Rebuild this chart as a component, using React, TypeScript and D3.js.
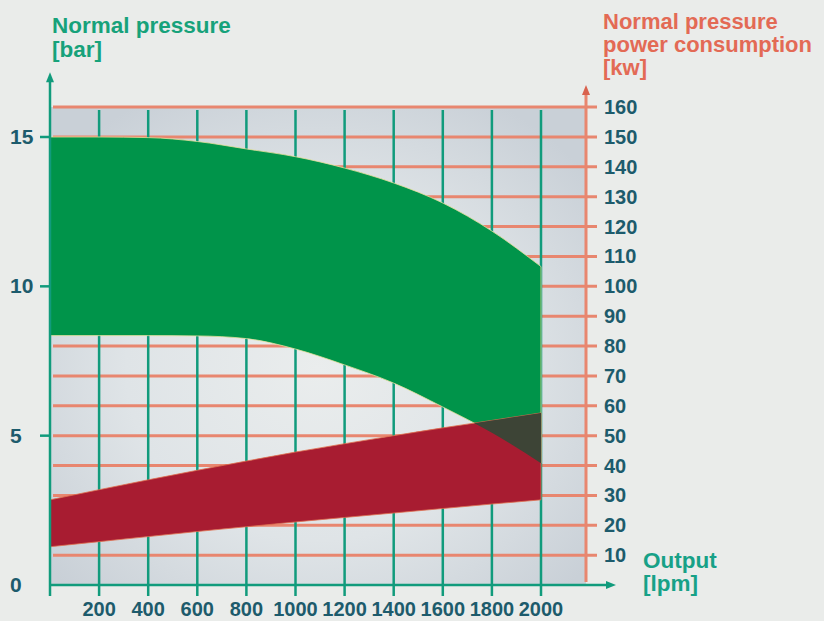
import React from "react";
import * as d3 from "d3";

// output flow (lpm) sampled every 200
const outputLpm = [0, 200, 400, 600, 800, 1000, 1200, 1400, 1600, 1800, 2000];
// normal pressure band (bar)
const pressureMax = [15, 15, 14.98, 14.85, 14.6, 14.34, 13.96, 13.46, 12.79, 11.85, 10.66];
const pressureMin = [8.35, 8.35, 8.35, 8.34, 8.25, 7.9, 7.37, 6.76, 5.96, 5.1, 4.08];
// power consumption band (kW)
const powerMax = [28.5, 31.9, 35.2, 38.4, 41.5, 44.5, 47.3, 50, 52.6, 55.1, 57.6];
const powerMin = [12.8, 14.5, 16.2, 17.9, 19.5, 21.1, 22.6, 24.1, 25.6, 27.1, 28.5];

const pressureTicks = [0, 5, 10, 15];
const powerTicks = [10, 20, 30, 40, 50, 60, 70, 80, 90, 100, 110, 120, 130, 140, 150, 160];
const outputTicks = [200, 400, 600, 800, 1000, 1200, 1400, 1600, 1800, 2000];

const W = 824;
const H = 621;

const GREEN = "#00944a";
const RED = "#a81c31";
const DARK = "#3d4436";
const TEAL = "#119b7c";
const GRID_RED = "#e8866f";
const LABEL = "#1d5b6c";
const FONT = "'Liberation Sans', Arial, sans-serif";

const App = () => {
  const x = d3.scaleLinear().domain([0, 2000]).range([50, 541]);
  const yP = d3.scaleLinear().domain([0, 15]).range([585, 137]);
  const yK = d3.scaleLinear().domain([0, 160]).range([585, 107]);

  const rows = outputLpm.map((q, i) => ({
    q,
    pMax: pressureMax[i],
    pMin: pressureMin[i],
    kMax: powerMax[i],
    kMin: powerMin[i],
  }));

  const greenArea = d3
    .area<any>()
    .x(d => x(d.q))
    .y0(d => yP(d.pMin))
    .y1(d => yP(d.pMax))
    .curve(d3.curveMonotoneX);
  const redArea = d3
    .area<any>()
    .x(d => x(d.q))
    .y0(d => yK(d.kMin))
    .y1(d => yK(d.kMax))
    .curve(d3.curveMonotoneX);

  const x0 = x(0);
  const y0 = yP(0);
  const top = yK(160);
  const xr = 586;

  return (
    <svg
      width={W}
      height={H}
      style={{ position: "absolute", left: 0, top: 0, display: "block" }}
      fontFamily={FONT}
    >
      <defs>
        <radialGradient id="plotBg" cx="50%" cy="55%" r="65%">
          <stop offset="0%" stopColor="#eaeded" />
          <stop offset="55%" stopColor="#dfe4e7" />
          <stop offset="100%" stopColor="#c9d0d7" />
        </radialGradient>
        <clipPath id="greenClip">
          <path d={greenArea(rows) || ""} />
        </clipPath>
      </defs>
      <rect width={W} height={H} fill="#eaecea" />
      <rect x={x0} y={top} width={xr - x0} height={y0 - top} fill="url(#plotBg)" />

      {/* horizontal power grid */}
      {powerTicks.map(t => (
        <line key={t} x1={x0 + 3} x2={xr + 11} y1={yK(t)} y2={yK(t)} stroke={GRID_RED} strokeWidth={3} />
      ))}
      {/* vertical output grid */}
      {outputTicks.map(t => (
        <line key={t} x1={x(t)} x2={x(t)} y1={top + 3} y2={y0 + 11} stroke={TEAL} strokeWidth={2.5} />
      ))}

      {/* bands */}
      <path d={greenArea(rows) || ""} fill={GREEN} stroke="#e6df9a" strokeWidth={0.8} />
      <path d={redArea(rows) || ""} fill={RED} stroke="#e0704f" strokeWidth={0.8} />
      <path d={redArea(rows) || ""} fill={DARK} clipPath="url(#greenClip)" />

      {/* right power axis */}
      <line x1={xr} x2={xr} y1={y0 - 3} y2={top - 14} stroke={GRID_RED} strokeWidth={3} />
      <path d={`M${xr - 4},${top - 12} L${xr},${top - 22} L${xr + 4},${top - 12} Z`} fill="#d9624e" />

      {/* left pressure axis */}
      <line x1={x0} x2={x0} y1={y0 + 11} y2={yP(16.9)} stroke={TEAL} strokeWidth={2.5} />
      <path d={`M${x0 - 4},${yP(16.9) + 2} L${x0},${yP(16.9) - 8} L${x0 + 4},${yP(16.9) + 2} Z`} fill={TEAL} />
      {pressureTicks.filter(t => t > 0).map(t => (
        <line key={t} x1={x0 - 10} x2={x0} y1={yP(t)} y2={yP(t)} stroke={TEAL} strokeWidth={2.5} />
      ))}

      {/* bottom output axis */}
      <line x1={x0} x2={xr + 22} y1={y0} y2={y0} stroke={TEAL} strokeWidth={2.5} />
      <path d={`M${xr + 20},${y0 - 4} L${xr + 30},${y0} L${xr + 20},${y0 + 4} Z`} fill={TEAL} />

      {/* tick labels */}
      {pressureTicks.map(t => (
        <text key={t} x={10} y={yP(t) + 7} fontSize={21} fontWeight="bold" fill={LABEL}>
          {t}
        </text>
      ))}
      {powerTicks.map(t => (
        <text key={t} x={604} y={yK(t) + 7} fontSize={20} fontWeight="bold" fill={LABEL}>
          {t}
        </text>
      ))}
      {outputTicks.map(t => (
        <text key={t} x={x(t)} y={616} fontSize={20} fontWeight="bold" fill={LABEL} textAnchor="middle">
          {t}
        </text>
      ))}

      {/* titles */}
      <text x={52} y={33} fontSize={22.5} fontWeight="bold" fill="#17a27a">
        <tspan x={52}>Normal pressure</tspan>
        <tspan x={52} dy={24}>[bar]</tspan>
      </text>
      <text x={603} y={29} fontSize={22} fontWeight="bold" fill="#e36a55">
        <tspan x={603}>Normal pressure</tspan>
        <tspan x={603} dy={23}>power consumption</tspan>
        <tspan x={603} dy={23}>[kw]</tspan>
      </text>
      <text x={643} y={568} fontSize={22.5} fontWeight="bold" fill="#17a187">
        <tspan x={643}>Output</tspan>
        <tspan x={643} dy={23}>[lpm]</tspan>
      </text>
    </svg>
  );
};

export default App;
